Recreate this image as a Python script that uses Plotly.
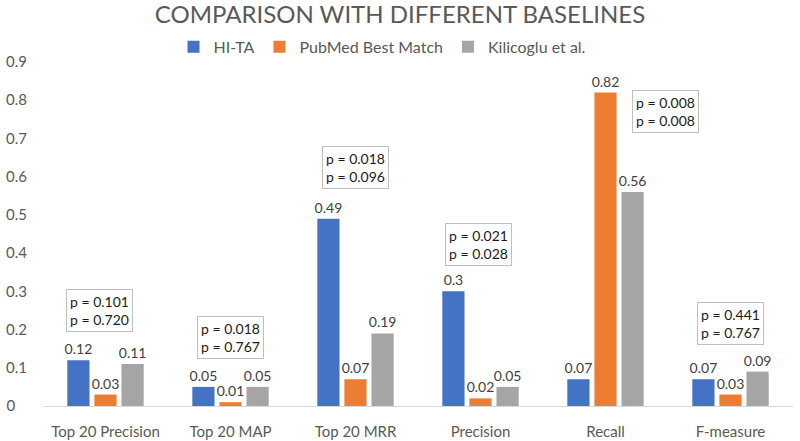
import plotly.graph_objects as go

# Data
categories = ["Top 20 Precision", "Top 20 MAP", "Top 20 MRR", "Precision", "Recall", "F-measure"]
hi_ta = [0.12, 0.05, 0.49, 0.3, 0.07, 0.07]
pubmed = [0.03, 0.01, 0.07, 0.02, 0.82, 0.03]
kilicoglu = [0.11, 0.05, 0.19, 0.05, 0.56, 0.09]
p_values = [("0.101", "0.720"), ("0.018", "0.767"), ("0.018", "0.096"),
            ("0.021", "0.028"), ("0.008", "0.008"), ("0.441", "0.767")]
tick_vals = [0, 0.1, 0.2, 0.3, 0.4, 0.5, 0.6, 0.7, 0.8, 0.9]

# where the p-value boxes sit (category index, y value)
box_x = [-0.05, 0.0, 0.0, -0.02, 0.48, 0.0]
box_y = [0.249, 0.18, 0.624, 0.423, 0.771, 0.215]

series = [("HI-TA", hi_ta, "#4472C4"),
          ("PubMed Best Match", pubmed, "#ED7D31"),
          ("Kilicoglu et al.", kilicoglu, "#A5A5A5")]

FONT = "Lato, Calibri, sans-serif"

fig = go.Figure()
for name, vals, color in series:
    fig.add_trace(go.Bar(
        x=categories,
        y=vals,
        name=name,
        marker=dict(color=color, line=dict(width=0)),
        text=[f"{v:g}" for v in vals],
        textposition="outside",
        constraintext="none",
        textfont=dict(size=14, color="#404040", family=FONT),
        cliponaxis=False,
    ))

for i, (p1, p2) in enumerate(p_values):
    fig.add_annotation(
        x=i + box_x[i], y=box_y[i], xref="x", yref="y",
        text=f"p = {p1}<br>p = {p2}",
        showarrow=False, align="left",
        font=dict(size=14, color="#1a1a1a", family=FONT),
        bordercolor="#BFBFBF", borderwidth=1, borderpad=3,
        bgcolor="white",
    )

# left-aligned tick labels (pad short ones with figure/punctuation spaces)
tick_text = ["0\u2008\u2007" if v == 0 else f"{v:g}" for v in tick_vals]

fig.update_layout(
    width=800, height=441,
    paper_bgcolor="white", plot_bgcolor="white",
    margin=dict(l=43, r=7, t=62, b=35, autoexpand=False),
    font=dict(family=FONT, color="#595959"),
    title=dict(text="COMPARISON WITH DIFFERENT BASELINES",
               x=0.5, xanchor="center", xref="container",
               y=0.966, yanchor="middle", yref="container",
               font=dict(size=24, color="#595959", family=FONT)),
    barmode="group", bargap=0.35, bargroupgap=0.18,
    legend=dict(orientation="h", x=0.452, xanchor="center", y=1.044, yanchor="middle",
                font=dict(size=16, color="#595959"), itemwidth=30,
                bgcolor="rgba(0,0,0,0)"),
    showlegend=True,
)
fig.update_xaxes(showline=True, linecolor="#D9D9D9", linewidth=1,
                 showgrid=False, ticks="", ticklabelstandoff=12,
                 tickfont=dict(size=15, color="#595959"))
fig.update_yaxes(range=[0, 0.9], showgrid=False, zeroline=False, showline=False,
                 tickvals=tick_vals, ticktext=tick_text, ticks="",
                 tickfont=dict(size=15, color="#595959"), ticklabelstandoff=15)

# drop the default page margin so the figure sits at the window's corner
fig.write_html("out.html", config={"displayModeBar": False},
               post_script="document.body.style.margin='0';")
